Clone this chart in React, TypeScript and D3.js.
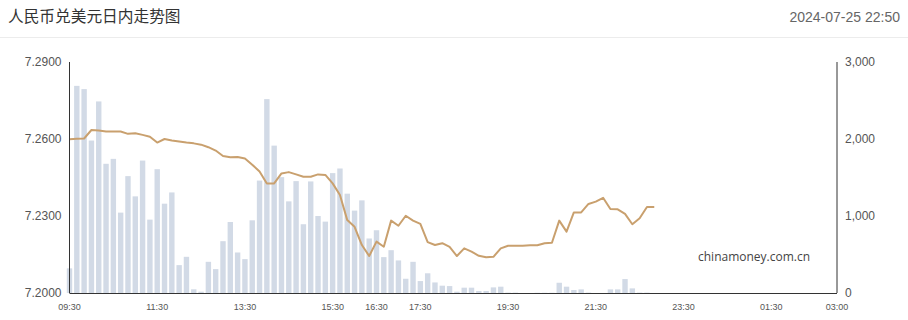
import React from "react";
import * as d3 from "d3";

const times: string[] = [
  "09:30","09:40","09:50","10:00","10:10","10:20","10:30","10:40","10:50",
  "11:00","11:10","11:20","11:30","11:40","11:50","12:00","12:10","12:20",
  "12:30","12:40","12:50","13:00","13:10","13:20","13:30","13:40","13:50",
  "14:00","14:10","14:20","14:30","14:40","14:50","15:00","15:10","15:20",
  "15:30","15:40","15:50","16:00","16:10","16:20","16:30","16:40","16:50",
  "17:00","17:10","17:20","17:30","17:40","17:50","18:00","18:10","18:20",
  "18:30","18:40","18:50","19:00","19:10","19:20","19:30","19:40","19:50",
  "20:00","20:10","20:20","20:30","20:40","20:50","21:00","21:10","21:20",
  "21:30","21:40","21:50","22:00","22:10","22:20","22:30","22:40","22:50",
];

const rates: number[] = [
  7.2599, 7.2601, 7.2602, 7.2635, 7.2633, 7.2629, 7.2629, 7.2629, 7.2620,
  7.2622, 7.2616, 7.2609, 7.2586, 7.2600, 7.2594, 7.2590, 7.2586, 7.2583,
  7.2578, 7.2568, 7.2555, 7.2534, 7.2529, 7.2530, 7.2524, 7.2500, 7.2473,
  7.2427, 7.2427, 7.2466, 7.2471, 7.2462, 7.2453, 7.2453, 7.2462, 7.2460,
  7.2427, 7.2382, 7.2284, 7.2258, 7.2187, 7.2144, 7.2200, 7.2180, 7.2282,
  7.2262, 7.2301, 7.2282, 7.2269, 7.2198, 7.2187, 7.2194, 7.2180, 7.2144,
  7.2174, 7.2161, 7.2145, 7.2139, 7.2141, 7.2174, 7.2184, 7.2184, 7.2184,
  7.2186, 7.2186, 7.2194, 7.2196, 7.2282, 7.2239, 7.2314, 7.2314, 7.2347,
  7.2356, 7.2371, 7.2327, 7.2326, 7.2308, 7.2268, 7.2291, 7.2335, 7.2335,
];

const volumes: number[] = [
  320, 2690, 2648, 1980, 2488, 1678, 1742, 1044, 1518,
  1255, 1720, 953, 1608, 1160, 1306, 362, 470, 48,
  17, 405, 310, 673, 922, 526, 440, 944, 1460,
  2518, 1914, 1505, 1190, 1453, 893, 1449, 1000, 927,
  1557, 1617, 1290, 1070, 1203, 708, 815, 466, 556,
  423, 185, 405, 155, 256, 137, 95, 90, 17,
  69, 69, 26, 26, 73, 82, 5, 5, 0,
  0, 3, 3, 3, 133, 82, 39, 47, 5,
  0, 0, 47, 47, 181, 60, 5, 5, 0,
];

const xTickLabels: string[] = ["09:30","11:30","13:30","15:30","16:30","17:30","19:30","21:30","23:30","01:30","03:00"];
const xTickMinutes: number[] = [0, 120, 240, 360, 420, 480, 600, 720, 840, 960, 1050];
const rateTicks: number[] = [7.20, 7.23, 7.26, 7.29];
const volumeTicks: number[] = [0, 1000, 2000, 3000];

const title = "人民币兑美元日内走势图";
const stamp = "2024-07-25 22:50";
const watermark = "chinamoney.com.cn";

function minutesOf(t: string): number {
  const [h, m] = t.split(":").map(Number);
  let mins = h * 60 + m - (9 * 60 + 30);
  if (mins < 0) mins += 24 * 60;
  return mins;
}

export default function App() {
  const W = 908, H = 320;
  const left = 69.5, right = 837, top = 62, bottom = 293;
  const x = d3.scaleLinear().domain([0, 1050]).range([left, right]);
  const yR = d3.scaleLinear().domain([7.2, 7.29]).range([bottom, top]);
  const yV = d3.scaleLinear().domain([0, 3000]).range([bottom, top]);
  const barW = 5.4;
  const line = d3
    .line<number>()
    .x((_, i) => x(minutesOf(times[i])))
    .y((d) => yR(d));
  const fmt = d3.format(",");
  const axisColor = "#333";
  const labelColor = "#555";
  const font = "Arial, 'Liberation Sans', sans-serif";

  return (
    <svg
      width={W}
      height={H}
      style={{ position: "absolute", left: 0, top: 0, background: "#fff" }}
      fontFamily={font}
    >
      <text x={8} y={22} fontSize={15.7} fill="#333" fontFamily="'Noto Sans CJK SC', sans-serif">
        {title}
      </text>
      <text x={900} y={22} fontSize={14} fill="#666" textAnchor="end">
        {stamp}
      </text>
      <line x1={0} x2={W} y1={37.5} y2={37.5} stroke="#ececec" strokeWidth={1} />

      {volumes.map((v, i) => (
        <rect
          key={i}
          x={x(minutesOf(times[i])) - barW / 2}
          y={yV(v)}
          width={barW}
          height={bottom - yV(v)}
          fill="#d2dae6"
        />
      ))}

      <path d={line(rates) || ""} fill="none" stroke="#c9a06e" strokeWidth={2} strokeLinejoin="round" />

      <line x1={left} x2={left} y1={top} y2={bottom} stroke={axisColor} />
      <line x1={right} x2={right} y1={top} y2={bottom} stroke={axisColor} />
      <line x1={left} x2={right} y1={bottom + 0.5} y2={bottom + 0.5} stroke={axisColor} />

      {rateTicks.map((t) => (
        <text key={t} x={61.5} y={yR(t)} dy="0.35em" fontSize={12} fill={labelColor} textAnchor="end">
          {t.toFixed(4)}
        </text>
      ))}
      {volumeTicks.map((t) => (
        <text key={t} x={845} y={yV(t)} dy="0.35em" fontSize={12} fill={labelColor} textAnchor="start">
          {fmt(t)}
        </text>
      ))}
      {xTickLabels.map((lab, i) => (
        <text key={lab} x={x(xTickMinutes[i])} y={310} fontSize={9} fill={labelColor} textAnchor="middle">
          {lab}
        </text>
      ))}

      <text x={698} y={261} fontSize={12} fill="#444" fontFamily="'Open Sans', sans-serif">
        {watermark}
      </text>
    </svg>
  );
}
